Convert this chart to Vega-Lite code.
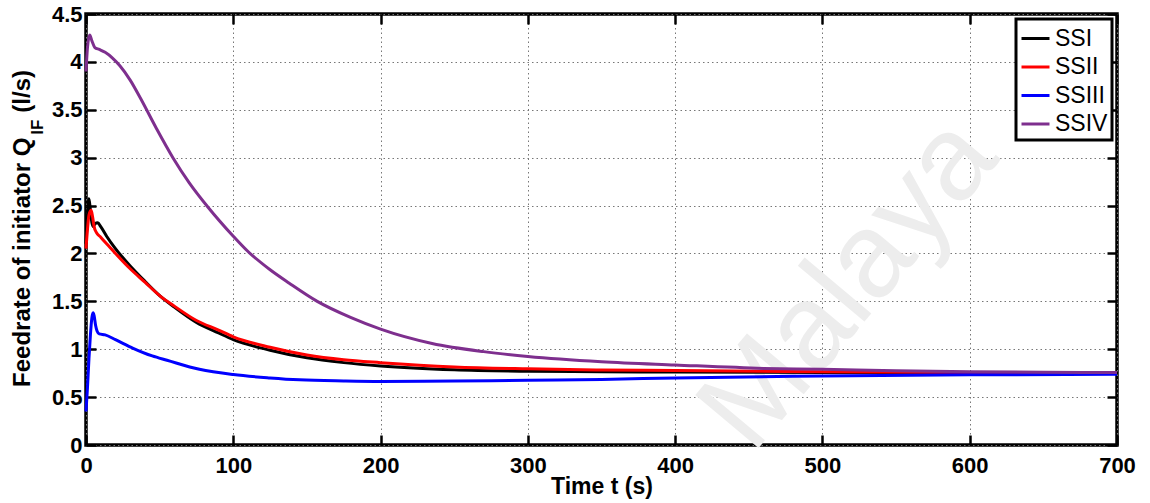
{
  "$schema": "https://vega.github.io/schema/vega-lite/v6.json",
  "width": 1031,
  "height": 431,
  "autosize": "none",
  "padding": {"left": 86, "top": 14, "right": 33, "bottom": 58},
  "background": "white",
  "config": {
    "view": {"stroke": "black", "strokeWidth": 3.5},
    "font": "Liberation Sans"
  },
  "resolve": {"axis": {"x": "independent", "y": "independent"}},
  "layer": [
    {
      "data": {"values": [{"t": 518, "q": 1.68, "label": "Malaya"}]},
      "mark": {"type": "text", "angle": -50, "align": "center", "baseline": "middle", "fontSize": 120, "font": "Liberation Sans", "color": "#ededed"},
      "encoding": {
        "x": {"field": "t", "type": "quantitative", "scale": {"domain": [0, 700], "nice": false},
          "axis": {"orient": "top", "values": [0, 100, 200, 300, 400, 500, 600, 700], "labels": false, "title": null, "grid": false, "domain": false, "ticks": true, "tickSize": -10, "tickWidth": 2.5, "tickColor": "black"}},
        "y": {"field": "q", "type": "quantitative", "scale": {"domain": [0, 4.5], "nice": false},
          "axis": {"orient": "right", "values": [0, 0.5, 1, 1.5, 2, 2.5, 3, 3.5, 4, 4.5], "labels": false, "title": null, "grid": false, "domain": false, "ticks": true, "tickSize": -10, "tickWidth": 2.5, "tickColor": "black"}},
        "text": {"field": "label"}
      }
    },
    {
      "data": {"values": [
        {"s": "SSI", "t": 0, "q": 2.1}, {"s": "SSI", "t": 1, "q": 2.4}, {"s": "SSI", "t": 2, "q": 2.57}, {"s": "SSI", "t": 3, "q": 2.45}, {"s": "SSI", "t": 4, "q": 2.32}, {"s": "SSI", "t": 5, "q": 2.28}, {"s": "SSI", "t": 6, "q": 2.31}, {"s": "SSI", "t": 8, "q": 2.32}, {"s": "SSI", "t": 10, "q": 2.28}, {"s": "SSI", "t": 14, "q": 2.18}, {"s": "SSI", "t": 20, "q": 2.05}, {"s": "SSI", "t": 30, "q": 1.87}, {"s": "SSI", "t": 40, "q": 1.71}, {"s": "SSI", "t": 50, "q": 1.56}, {"s": "SSI", "t": 60, "q": 1.44}, {"s": "SSI", "t": 75, "q": 1.28}, {"s": "SSI", "t": 90, "q": 1.17}, {"s": "SSI", "t": 100, "q": 1.1}, {"s": "SSI", "t": 125, "q": 0.99}, {"s": "SSI", "t": 150, "q": 0.91}, {"s": "SSI", "t": 175, "q": 0.86}, {"s": "SSI", "t": 200, "q": 0.825}, {"s": "SSI", "t": 250, "q": 0.785}, {"s": "SSI", "t": 300, "q": 0.77}, {"s": "SSI", "t": 350, "q": 0.765}, {"s": "SSI", "t": 400, "q": 0.762}, {"s": "SSI", "t": 500, "q": 0.756}, {"s": "SSI", "t": 600, "q": 0.752}, {"s": "SSI", "t": 700, "q": 0.75},
        {"s": "SSII", "t": 0, "q": 2.05}, {"s": "SSII", "t": 1, "q": 2.25}, {"s": "SSII", "t": 2, "q": 2.4}, {"s": "SSII", "t": 3.5, "q": 2.45}, {"s": "SSII", "t": 4.5, "q": 2.38}, {"s": "SSII", "t": 5.5, "q": 2.28}, {"s": "SSII", "t": 7, "q": 2.22}, {"s": "SSII", "t": 10, "q": 2.17}, {"s": "SSII", "t": 14, "q": 2.1}, {"s": "SSII", "t": 20, "q": 2.0}, {"s": "SSII", "t": 30, "q": 1.84}, {"s": "SSII", "t": 40, "q": 1.7}, {"s": "SSII", "t": 50, "q": 1.56}, {"s": "SSII", "t": 60, "q": 1.45}, {"s": "SSII", "t": 75, "q": 1.3}, {"s": "SSII", "t": 90, "q": 1.2}, {"s": "SSII", "t": 100, "q": 1.13}, {"s": "SSII", "t": 125, "q": 1.02}, {"s": "SSII", "t": 150, "q": 0.94}, {"s": "SSII", "t": 175, "q": 0.89}, {"s": "SSII", "t": 200, "q": 0.86}, {"s": "SSII", "t": 250, "q": 0.815}, {"s": "SSII", "t": 300, "q": 0.795}, {"s": "SSII", "t": 350, "q": 0.783}, {"s": "SSII", "t": 400, "q": 0.777}, {"s": "SSII", "t": 500, "q": 0.765}, {"s": "SSII", "t": 600, "q": 0.758}, {"s": "SSII", "t": 700, "q": 0.755},
        {"s": "SSIII", "t": 0, "q": 0.35}, {"s": "SSIII", "t": 1, "q": 0.6}, {"s": "SSIII", "t": 2, "q": 0.9}, {"s": "SSIII", "t": 3, "q": 1.15}, {"s": "SSIII", "t": 4, "q": 1.33}, {"s": "SSIII", "t": 4.8, "q": 1.38}, {"s": "SSIII", "t": 5.5, "q": 1.35}, {"s": "SSIII", "t": 6.5, "q": 1.25}, {"s": "SSIII", "t": 7.5, "q": 1.19}, {"s": "SSIII", "t": 9, "q": 1.16}, {"s": "SSIII", "t": 13, "q": 1.15}, {"s": "SSIII", "t": 20, "q": 1.1}, {"s": "SSIII", "t": 32, "q": 1.01}, {"s": "SSIII", "t": 45, "q": 0.93}, {"s": "SSIII", "t": 55, "q": 0.885}, {"s": "SSIII", "t": 77, "q": 0.79}, {"s": "SSIII", "t": 100, "q": 0.735}, {"s": "SSIII", "t": 125, "q": 0.7}, {"s": "SSIII", "t": 145, "q": 0.68}, {"s": "SSIII", "t": 175, "q": 0.668}, {"s": "SSIII", "t": 200, "q": 0.663}, {"s": "SSIII", "t": 250, "q": 0.667}, {"s": "SSIII", "t": 300, "q": 0.676}, {"s": "SSIII", "t": 350, "q": 0.685}, {"s": "SSIII", "t": 400, "q": 0.7}, {"s": "SSIII", "t": 500, "q": 0.72}, {"s": "SSIII", "t": 600, "q": 0.733}, {"s": "SSIII", "t": 700, "q": 0.738},
        {"s": "SSIV", "t": 0, "q": 3.9}, {"s": "SSIV", "t": 1, "q": 4.15}, {"s": "SSIV", "t": 2.5, "q": 4.28}, {"s": "SSIV", "t": 4, "q": 4.22}, {"s": "SSIV", "t": 6, "q": 4.15}, {"s": "SSIV", "t": 9, "q": 4.13}, {"s": "SSIV", "t": 13, "q": 4.1}, {"s": "SSIV", "t": 18, "q": 4.04}, {"s": "SSIV", "t": 23, "q": 3.96}, {"s": "SSIV", "t": 30, "q": 3.81}, {"s": "SSIV", "t": 37, "q": 3.62}, {"s": "SSIV", "t": 48, "q": 3.3}, {"s": "SSIV", "t": 59, "q": 3.0}, {"s": "SSIV", "t": 70, "q": 2.74}, {"s": "SSIV", "t": 83, "q": 2.48}, {"s": "SSIV", "t": 100, "q": 2.18}, {"s": "SSIV", "t": 110, "q": 2.02}, {"s": "SSIV", "t": 125, "q": 1.83}, {"s": "SSIV", "t": 138, "q": 1.69}, {"s": "SSIV", "t": 157, "q": 1.5}, {"s": "SSIV", "t": 180, "q": 1.33}, {"s": "SSIV", "t": 200, "q": 1.21}, {"s": "SSIV", "t": 235, "q": 1.06}, {"s": "SSIV", "t": 270, "q": 0.975}, {"s": "SSIV", "t": 300, "q": 0.925}, {"s": "SSIV", "t": 350, "q": 0.87}, {"s": "SSIV", "t": 400, "q": 0.836}, {"s": "SSIV", "t": 460, "q": 0.8}, {"s": "SSIV", "t": 500, "q": 0.79}, {"s": "SSIV", "t": 550, "q": 0.775}, {"s": "SSIV", "t": 600, "q": 0.765}, {"s": "SSIV", "t": 650, "q": 0.76}, {"s": "SSIV", "t": 700, "q": 0.757}
      ]},
      "mark": {"type": "line", "strokeWidth": 3, "interpolate": "monotone"},
      "encoding": {
        "x": {"field": "t", "type": "quantitative", "scale": {"domain": [0, 700], "nice": false},
          "axis": {"orient": "bottom", "values": [0, 100, 200, 300, 400, 500, 600, 700], "format": "d", "title": "Time t (s)", "titleFontSize": 23, "titleFontWeight": "bold", "titleColor": "black", "titleFont": "Liberation Sans", "titleY": 48, "titleBaseline": "alphabetic",
            "labelFontSize": 22, "labelFontWeight": "bold", "labelColor": "black", "labelFont": "Liberation Sans", "labelPadding": 20, "labelFlush": false, "labelOverlap": false,
            "tickSize": -10, "tickWidth": 2.5, "tickColor": "black", "domain": false,
            "grid": true, "gridColor": "#777777", "gridDash": [1.5, 3], "gridWidth": 1}},
        "y": {"field": "q", "type": "quantitative", "scale": {"domain": [0, 4.5], "nice": false},
          "axis": {"orient": "left", "values": [0, 0.5, 1, 1.5, 2, 2.5, 3, 3.5, 4, 4.5], "labelExpr": "'' + datum.value", "title": null,
            "labelFontSize": 22, "labelFontWeight": "bold", "labelColor": "black", "labelFont": "Liberation Sans", "labelPadding": 14, "labelFlush": false, "labelOverlap": false,
            "tickSize": -10, "tickWidth": 2.5, "tickColor": "black", "domain": false,
            "grid": true, "gridColor": "#777777", "gridDash": [1.5, 3], "gridWidth": 1}},
        "color": {"field": "s", "type": "nominal",
          "scale": {"domain": ["SSI", "SSII", "SSIII", "SSIV"], "range": ["#000000", "#ff0000", "#0000ff", "#7e2f8e"]},
          "legend": {"orient": "top-right", "offset": 5, "title": null, "strokeColor": "black", "padding": 4, "fillColor": "white",
            "labelFont": "Liberation Sans", "labelFontSize": 23, "labelColor": "black", "labelOffset": 4,
            "symbolType": "stroke", "symbolStrokeWidth": 3, "symbolSize": 784, "rowPadding": 0.5,
            "encode": {"legend": {"update": {"strokeWidth": {"value": 3}}}}}}
      }
    },
    {
      "data": {"values": [{"t": 0, "q": 0.606, "label": "Feedrate of initiator Q"}]},
      "mark": {"type": "text", "angle": 270, "align": "left", "baseline": "alphabetic", "dy": -56, "fontSize": 24, "fontWeight": "bold", "font": "Liberation Sans", "color": "black"},
      "encoding": {"x": {"field": "t", "type": "quantitative", "axis": null}, "y": {"field": "q", "type": "quantitative", "axis": null}, "text": {"field": "label"}}
    },
    {
      "data": {"values": [{"t": 0, "q": 3.24, "label": "IF"}]},
      "mark": {"type": "text", "angle": 270, "align": "left", "baseline": "alphabetic", "dy": -43, "fontSize": 17, "fontWeight": "bold", "font": "Liberation Sans", "color": "black"},
      "encoding": {"x": {"field": "t", "type": "quantitative", "axis": null}, "y": {"field": "q", "type": "quantitative", "axis": null}, "text": {"field": "label"}}
    },
    {
      "data": {"values": [{"t": 0, "q": 3.47, "label": "(l/s)"}]},
      "mark": {"type": "text", "angle": 270, "align": "left", "baseline": "alphabetic", "dy": -56, "fontSize": 24, "fontWeight": "bold", "font": "Liberation Sans", "color": "black"},
      "encoding": {"x": {"field": "t", "type": "quantitative", "axis": null}, "y": {"field": "q", "type": "quantitative", "axis": null}, "text": {"field": "label"}}
    }
  ]
}
